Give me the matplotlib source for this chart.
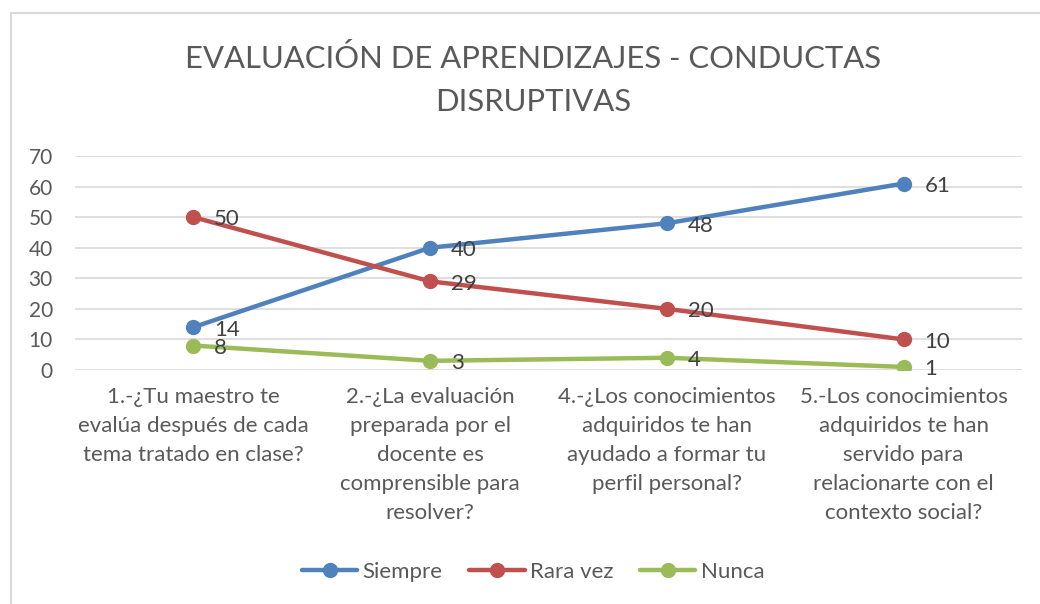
import matplotlib
matplotlib.use("Agg")
import matplotlib.pyplot as plt
from matplotlib.patches import Rectangle

plt.rcParams["font.family"] = ["Lato", "DejaVu Sans"]

categories = [
    "1.-¿Tu maestro te\nevalúa después de cada\ntema tratado en clase?",
    "2.-¿La evaluación\npreparada por el\ndocente es\ncomprensible para\nresolver?",
    "4.-¿Los conocimientos\nadquiridos te han\nayudado a formar tu\nperfil personal?",
    "5.-Los conocimientos\nadquiridos te han\nservido para\nrelacionarte con el\ncontexto social?",
]
siempre = [14, 40, 48, 61]
rara_vez = [50, 29, 20, 10]
nunca = [8, 3, 4, 1]
y_ticks = [0, 10, 20, 30, 40, 50, 60, 70]
title = "EVALUACIÓN DE APRENDIZAJES - CONDUCTAS\nDISRUPTIVAS"

TEXT = "#595959"
W, H = 1040, 604

fig = plt.figure(figsize=(W / 100, H / 100), dpi=100)

# outer chart border (runs off the right/bottom edge in the original)
fig.patches.append(Rectangle((10.5 / W, -0.1), 1.2, 1 - 12.5 / H + 0.1,
                             transform=fig.transFigure, fill=False,
                             edgecolor="#D9D9D9", linewidth=1.5))

ax = fig.add_axes([75 / W, (H - 370) / H, 947 / W, 214 / H])

x = list(range(len(categories)))
series = [
    ("Siempre", siempre, "#4F81BD"),
    ("Rara vez", rara_vez, "#C0504D"),
    ("Nunca", nunca, "#9BBB59"),
]
for name, vals, color in series:
    ax.plot(x, vals, color=color, linewidth=3.2, marker="o", markersize=10,
            label=name, zorder=3, solid_capstyle="round")
    for xi, v in zip(x, vals):
        ax.annotate(str(v), (xi, v), xytext=(15, -6), textcoords="offset points",
                    ha="left", va="baseline", fontsize=16, color="#404040", zorder=4)

ax.set_xlim(-0.5, len(categories) - 0.5)
ax.set_ylim(0, 70)
ax.set_yticks(y_ticks)
ax.set_xticks(x)
ax.set_xticklabels(categories, fontsize=16, color=TEXT, linespacing=1.57)
ax.tick_params(axis="y", length=0, pad=16, labelsize=15, labelcolor=TEXT)
ax.tick_params(axis="x", length=0, pad=12)
ax.grid(axis="y", color="#D9D9D9", linewidth=1.2)
ax.set_axisbelow(True)
for s in ax.spines.values():
    s.set_visible(False)

fig.text(533 / W, 1 - 80 / H, title, ha="center", va="center",
         fontsize=22.3, color=TEXT, linespacing=1.65)

fig.legend(loc="center", bbox_to_anchor=(533 / W, 1 - 572 / H), ncol=3,
           frameon=False, fontsize=16, handlelength=2.5, handletextpad=0.23,
           columnspacing=1.2, labelcolor=TEXT)

fig.savefig("out.png", dpi=100)
